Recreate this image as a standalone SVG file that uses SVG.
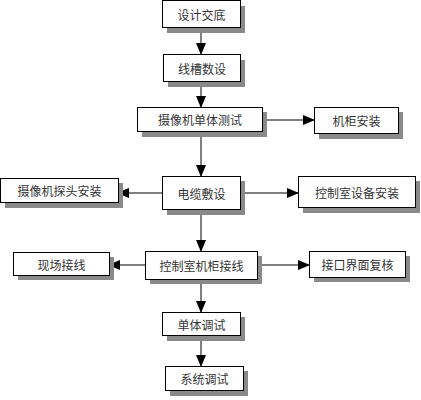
<svg xmlns="http://www.w3.org/2000/svg" width="421" height="400" viewBox="0 0 421 400">
<defs>
<marker id="ah" markerWidth="12" markerHeight="10" refX="11" refY="5" orient="auto" markerUnits="userSpaceOnUse">
<path d="M0,0 L12,5 L0,10 Z" fill="#000"/>
</marker>
</defs>
<style>
.sh{fill:#8a8a8a}
.bx{fill:#fff;stroke:#000;stroke-width:1}
.t{font-family:"Noto Sans CJK SC","Liberation Sans",sans-serif;font-size:12px;fill:#333;text-anchor:middle;dominant-baseline:central}
.c{stroke:#000;stroke-width:1;fill:none;marker-end:url(#ah)}
</style>
<rect width="421" height="400" fill="#fff"/>
<g id="connectors">
<line class="c" x1="201" y1="28" x2="201" y2="54"/>
<line class="c" x1="201" y1="82" x2="201" y2="107"/>
<line class="c" x1="201" y1="132" x2="201" y2="176"/>
<line class="c" x1="201" y1="211" x2="201" y2="251"/>
<line class="c" x1="201" y1="280" x2="201" y2="312"/>
<line class="c" x1="201" y1="336" x2="201" y2="366"/>
<line class="c" x1="262" y1="120" x2="314" y2="120"/>
<line class="c" x1="162" y1="193" x2="118" y2="193"/>
<line class="c" x1="240" y1="193" x2="298" y2="193"/>
<line class="c" x1="145" y1="265" x2="109" y2="265"/>
<line class="c" x1="257" y1="265" x2="309" y2="265"/>
</g>
<g id="n1"><rect class="sh" x="167" y="6" width="78" height="27"/><rect class="bx" x="162.5" y="0.5" width="78" height="27"/><text class="t" x="201.5" y="14">设计交底</text></g>
<g id="n2"><rect class="sh" x="168" y="60" width="77" height="27"/><rect class="bx" x="163.5" y="54.5" width="77" height="27"/><text class="t" x="202" y="68">线槽数设</text></g>
<g id="n3"><rect class="sh" x="142" y="112" width="125" height="25"/><rect class="bx" x="137.5" y="107.5" width="125" height="24"/><text class="t" x="200" y="119.5">摄像机单体测试</text></g>
<g id="n4"><rect class="sh" x="319" y="112" width="84" height="27"/><rect class="bx" x="314.5" y="107.5" width="84" height="26"/><text class="t" x="356.5" y="120.5">机柜安装</text></g>
<g id="n5"><rect class="sh" x="5" y="183" width="118" height="25"/><rect class="bx" x="0.5" y="178.5" width="118" height="24"/><text class="t" x="59.5" y="190.5">摄像机探头安装</text></g>
<g id="n6"><rect class="sh" x="167" y="181" width="78" height="34"/><rect class="bx" x="162.5" y="176.5" width="78" height="33"/><text class="t" x="201.5" y="193">电缆敷设</text></g>
<g id="n7"><rect class="sh" x="303" y="181" width="117" height="32"/><rect class="bx" x="298.5" y="176.5" width="117" height="31"/><text class="t" x="357" y="192">控制室设备安装</text></g>
<g id="n8"><rect class="sh" x="18" y="257" width="96" height="23"/><rect class="bx" x="13.5" y="252.5" width="96" height="23"/><text class="t" x="61.5" y="264">现场接线</text></g>
<g id="n9"><rect class="sh" x="150" y="256" width="112" height="28"/><rect class="bx" x="145.5" y="251.5" width="112" height="28"/><text class="t" x="201.5" y="265.5">控制室机柜接线</text></g>
<g id="n10"><rect class="sh" x="314" y="256" width="96" height="26"/><rect class="bx" x="309.5" y="251.5" width="96" height="26"/><text class="t" x="357.5" y="264.5">接口界面复核</text></g>
<g id="n11"><rect class="sh" x="167" y="317" width="78" height="24"/><rect class="bx" x="162.5" y="312.5" width="78" height="23"/><text class="t" x="201.5" y="324">单体调试</text></g>
<g id="n12"><rect class="sh" x="170" y="371" width="78" height="25"/><rect class="bx" x="165.5" y="366.5" width="78" height="24"/><text class="t" x="204.5" y="378.5">系统调试</text></g>
</svg>
